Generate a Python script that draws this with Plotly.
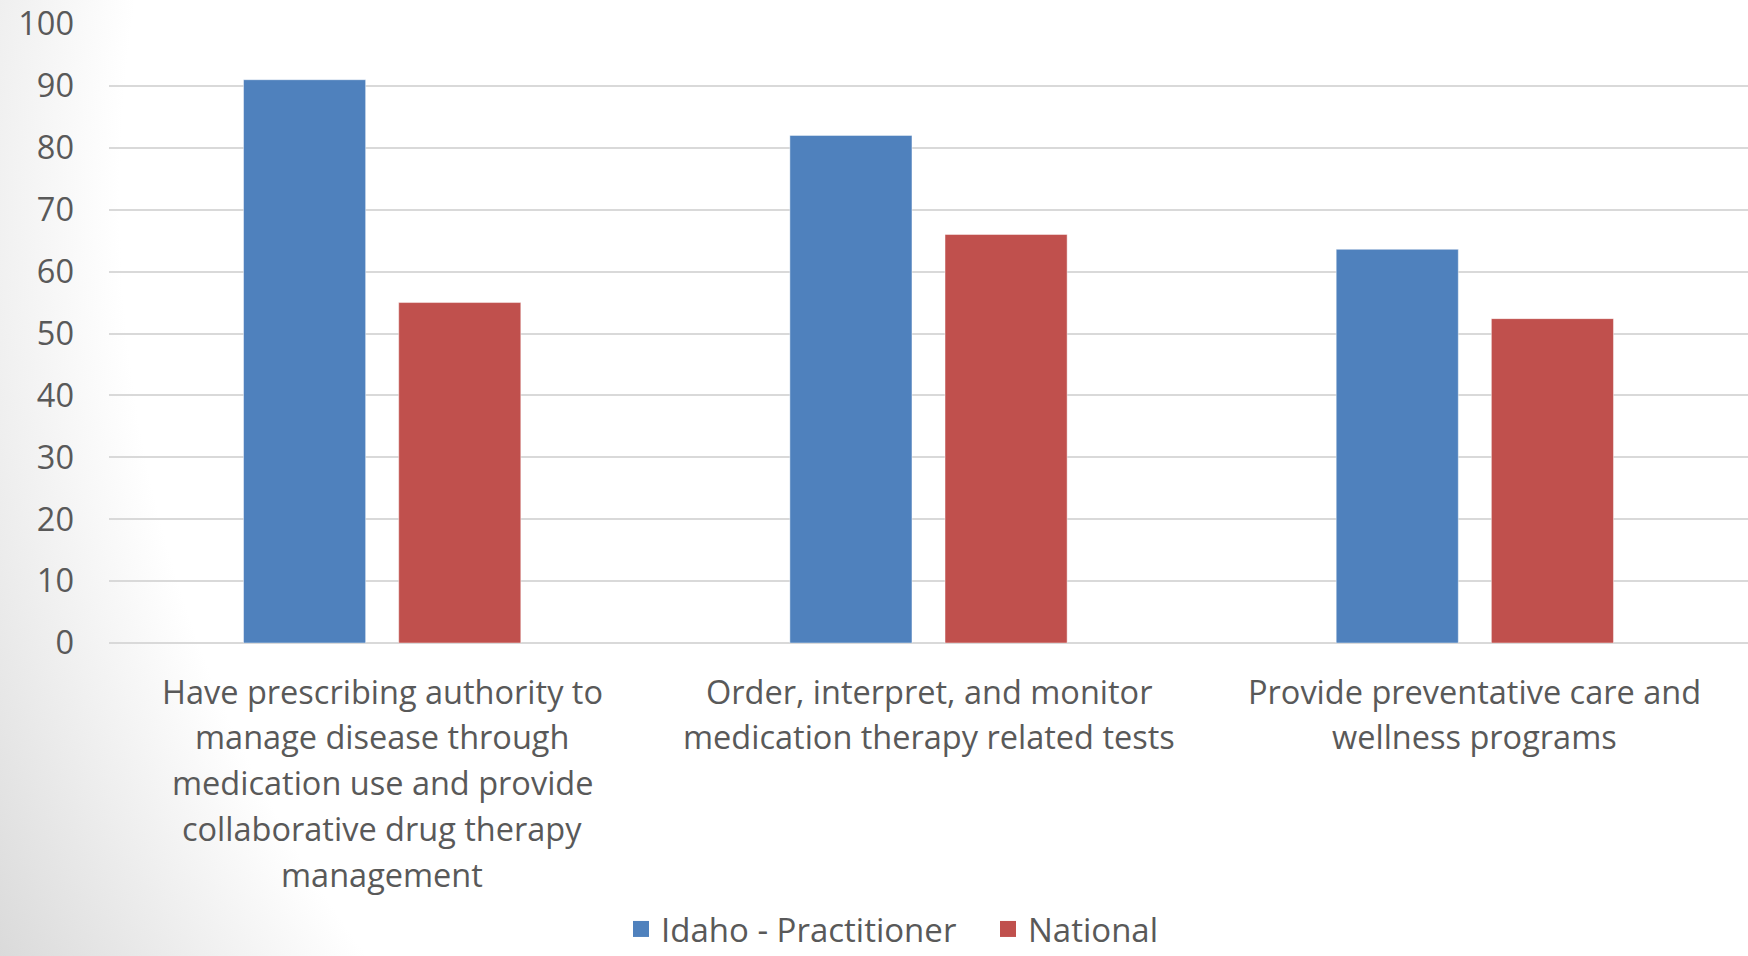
import base64
import plotly.graph_objects as go

categories = ["cat1", "cat2", "cat3"]
label_lines = [
    ["Have prescribing authority to", "manage disease through", "medication use and provide",
     "collaborative drug therapy", "management"],
    ["Order, interpret, and monitor", "medication therapy related tests"],
    ["Provide preventative care and", "wellness programs"],
]
idaho = [91, 82, 63.6]
national = [55, 66, 52.4]
series_names = ["Idaho - Practitioner", "National"]
y_ticks = list(range(0, 101, 10))

BLUE = "#4F81BD"
RED = "#C0504D"
TXT = "#595959"
FONT = "Open Sans"

W, H = 1748, 956
svg = f'''<svg xmlns="http://www.w3.org/2000/svg" width="{W}" height="{H}" viewBox="0 0 {W} {H}" preserveAspectRatio="none">
<defs><radialGradient id="g" gradientUnits="userSpaceOnUse" cx="1400" cy="200" r="1600">
<stop offset="0" stop-color="#ffffff"/><stop offset="0.80" stop-color="#ffffff"/>
<stop offset="1" stop-color="#d9d9d9"/></radialGradient></defs>
<rect x="0" y="0" width="{W}" height="{H}" fill="url(#g)"/></svg>'''
src = "data:image/svg+xml;base64," + base64.b64encode(svg.encode()).decode()

fig = go.Figure()
fig.add_trace(go.Bar(x=categories, y=idaho, name=series_names[0], marker_color=BLUE,
                     marker_line=dict(color="rgba(255,255,255,0.45)", width=1), showlegend=False))
fig.add_trace(go.Bar(x=categories, y=national, name=series_names[1], marker_color=RED,
                     marker_line=dict(color="rgba(255,255,255,0.45)", width=1), showlegend=False))
# legend entries
for nm, col in zip(series_names, [BLUE, RED]):
    fig.add_trace(go.Scatter(x=[None], y=[None], mode="markers", name=nm,
                             marker=dict(symbol="square", size=20, color=col)))

annotations = []
for cat, lines in zip(categories, label_lines):
    for i, ln in enumerate(lines):
        annotations.append(dict(x=cat, xref="x", y=-0.078 - i * 0.0738, yref="paper",
                                text=ln, showarrow=False, yanchor="middle", xanchor="center",
                                font=dict(family=FONT, size=32.5, color=TXT)))

fig.update_layout(
    width=W, height=H,
    margin=dict(l=109, r=0, t=24, b=313),
    paper_bgcolor="white", plot_bgcolor="rgba(0,0,0,0)",
    barmode="group", bargap=0.432, bargroupgap=0.213,
    font=dict(family=FONT, color=TXT),
    images=[dict(source=src, xref="paper", yref="paper", x=-109/1639, y=1 + 24/619,
                 sizex=W/1639, sizey=H/619, sizing="stretch", layer="below",
                 xanchor="left", yanchor="top")],
    annotations=annotations,
    legend=dict(orientation="h", xref="container", x=621/W, xanchor="left",
                yref="container", y=1 - 929/H, yanchor="middle",
                font=dict(family=FONT, size=33, color=TXT), bgcolor="rgba(0,0,0,0)",
                entrywidth=322, itemclick=False),
    xaxis=dict(showticklabels=False, showgrid=False, zeroline=False, showline=False,
               range=[-0.5, 2.5]),
    yaxis=dict(range=[0, 100], tickvals=y_ticks, showgrid=True, gridcolor="#d9d9d9",
               gridwidth=2, zeroline=True, zerolinecolor="#d9d9d9", zerolinewidth=2,
               showline=False, ticks="", ticklabelstandoff=34,
               tickfont=dict(family=FONT, size=32.5, color=TXT)),
)
fig.write_html("out.html", config={"displayModeBar": False},
               post_script="document.body.style.margin='0';document.body.style.overflow='hidden';")
